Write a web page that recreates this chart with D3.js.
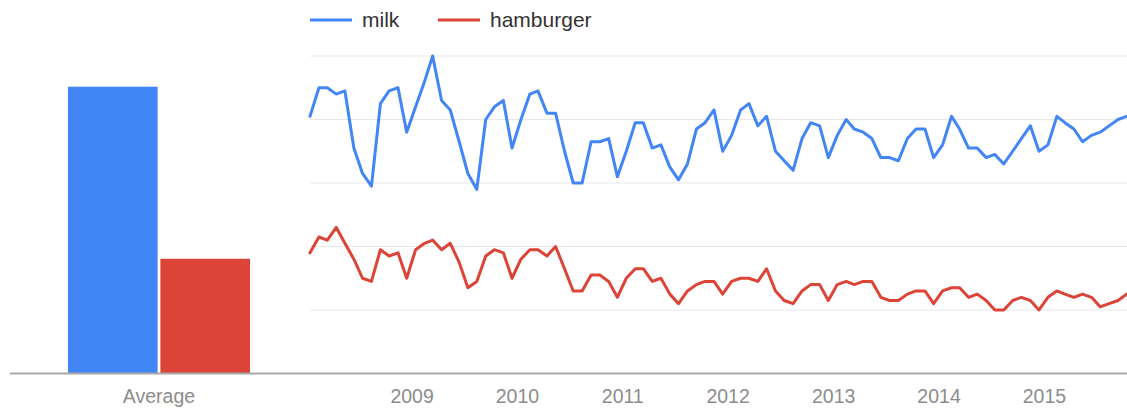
<!DOCTYPE html>
<html>
<head>
<meta charset="utf-8">
<script src="https://cdn.jsdelivr.net/npm/d3@7"></script>
<style>
  html, body { margin: 0; padding: 0; background: #fff; }
  svg { display: block; font-family: "Liberation Sans", Arial, Helvetica, sans-serif; }
</style>
</head>
<body>
<svg id="chart" width="1127" height="411"></svg>
<script>
// ---- data ----
const seriesNames = ["milk", "hamburger"];
const seriesColors = ["#4285f4", "#db4437"];
const barCategory = ["Average"];
const averages = [75, 30];
const startYear = 2008;          // first month: January 2008
const yearTicks = [2009, 2010, 2011, 2012, 2013, 2014, 2015];
const milk = [81, 90, 90, 88, 89, 71, 63, 59, 85, 89, 90, 76,
              84, 92, 100, 86, 83, 73, 63, 58, 80, 84, 86, 71,
              80, 88, 89, 82, 82, 70, 60, 60, 73, 73, 74, 62,
              70, 79, 79, 71, 72, 65, 61, 66, 77, 79, 83, 70,
              75, 83, 85, 78, 81, 70, 67, 64, 74, 79, 78, 68,
              75, 80, 77, 76, 74, 68, 68, 67, 74, 77, 77, 68,
              72, 81, 77, 71, 71, 68, 69, 66, 70, 74, 78, 70,
              72, 81, 79, 77, 73, 75, 76, 78, 80, 81];
const hamburger = [38, 43, 42, 46, 41, 36, 30, 29, 39, 37, 38, 30,
                   39, 41, 42, 39, 41, 35, 27, 29, 37, 39, 38, 30,
                   36, 39, 39, 37, 40, 33, 26, 26, 31, 31, 29, 24,
                   30, 33, 33, 29, 30, 25, 22, 26, 28, 29, 29, 25,
                   29, 30, 30, 29, 33, 26, 23, 22, 26, 28, 28, 23,
                   28, 29, 28, 29, 29, 24, 23, 23, 25, 26, 26, 22,
                   26, 27, 27, 24, 25, 23, 20, 20, 23, 24, 23, 20,
                   24, 26, 25, 24, 25, 24, 21, 22, 23, 25];
const gridValues = [20, 40, 60, 80, 100];

// ---- layout ----
const svg = d3.select("#chart");
const baseY = 373.5;
const plotLeft = 310, plotRight = 1127;
const months = milk.map((_, i) => new Date(startYear, i, 15));

const x = d3.scaleTime()
  .domain([months[0], months[months.length - 1]])
  .range([310, 1126.7]);
const y = d3.scaleLinear().domain([0, 100]).range([baseY, 56]);

// gridlines
svg.append("g").selectAll("line").data(gridValues).join("line")
  .attr("x1", plotLeft).attr("x2", plotRight)
  .attr("y1", d => y(d)).attr("y2", d => y(d))
  .attr("stroke", "#e8e8e8").attr("stroke-width", 1);

// bar chart
const xb = d3.scaleBand().domain(barCategory).range([68, 250]).paddingInner(0);
const xs = d3.scaleBand().domain(seriesNames).range([0, xb.bandwidth()]).paddingInner(0.03);
const yb = d3.scaleLinear().domain([0, 75]).range([baseY, 86.7]);

svg.append("g").selectAll("rect").data(seriesNames).join("rect")
  .attr("x", (d) => xb("Average") + xs(d))
  .attr("width", xs.bandwidth())
  .attr("y", (d, i) => yb(averages[i]))
  .attr("height", (d, i) => baseY - yb(averages[i]))
  .attr("fill", (d, i) => seriesColors[i]);

// baseline
svg.append("line")
  .attr("x1", 10).attr("x2", 1127).attr("y1", baseY).attr("y2", baseY)
  .attr("stroke", "#a8a8a8").attr("stroke-width", 2);

// bar category label
svg.append("text")
  .attr("x", xb("Average") + xb.bandwidth() / 2).attr("y", 403)
  .attr("text-anchor", "middle").attr("font-size", 19.5).attr("fill", "#8c8c8c")
  .text(barCategory[0]);

// x axis year labels via d3 axis
const axis = d3.axisBottom(x)
  .tickValues(yearTicks.map(yy => new Date(yy, 0, 1)))
  .tickFormat(d3.timeFormat("%Y"))
  .tickSize(0).tickPadding(0);
const ag = svg.append("g").attr("transform", `translate(0, ${baseY})`).call(axis);
ag.select(".domain").remove();
ag.selectAll("text")
  .attr("y", 29.5).attr("dy", null)
  .attr("font-size", 19.5).attr("fill", "#8c8c8c")
  .attr("font-family", "Liberation Sans, Arial, sans-serif");

// lines
const line = d3.line().x((d, i) => x(months[i])).y(d => y(d));
[milk, hamburger].forEach((s, k) => {
  svg.append("path").datum(s)
    .attr("d", line)
    .attr("fill", "none")
    .attr("stroke", seriesColors[k])
    .attr("stroke-width", 3)
    .attr("stroke-linejoin", "round")
    .attr("stroke-linecap", "round");
});

// legend
const legendX = [310, 438];
const lg = svg.append("g").selectAll("g").data(seriesNames).join("g")
  .attr("transform", (d, i) => `translate(${legendX[i]}, 20)`);
lg.append("line").attr("x1", 0).attr("x2", 42).attr("y1", 0).attr("y2", 0)
  .attr("stroke", (d, i) => seriesColors[i]).attr("stroke-width", 3);
lg.append("text").attr("x", 52).attr("y", 7)
  .attr("font-size", 21).attr("fill", "#333").text(d => d);
</script>
</body>
</html>
